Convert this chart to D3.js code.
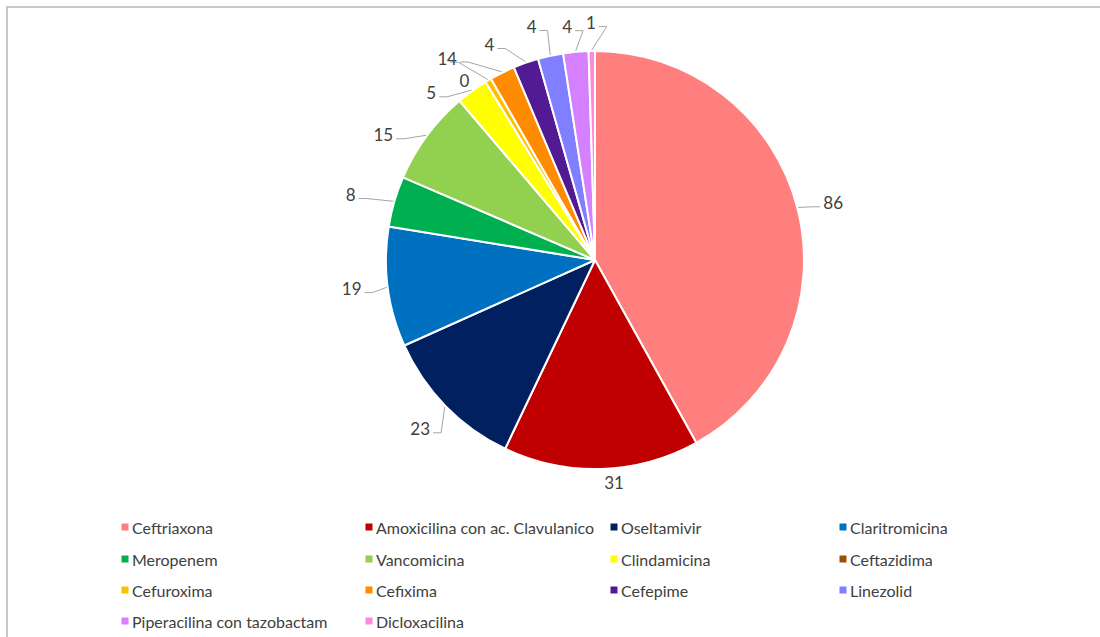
<!DOCTYPE html>
<html><head><meta charset="utf-8">
<script src="https://cdn.jsdelivr.net/npm/d3@7"></script>
<style>
html,body{margin:0;padding:0;background:#fff;}
svg{display:block;}
text{font-family:Lato,"Open Sans",Arial,sans-serif;fill:#404040;}
</style></head>
<body><svg id="c" width="1100" height="637"></svg>
<script>
const categories = ["Ceftriaxona","Amoxicilina con ac. Clavulanico","Oseltamivir","Claritromicina","Meropenem","Vancomicina","Clindamicina","Ceftazidima","Cefuroxima","Cefixima","Cefepime","Linezolid","Piperacilina con tazobactam","Dicloxacilina"];
const values = [86,31,23,19,8,15,5,0,1,4,4,4,4,1];
const colors = ["#FF7F7F","#C00000","#002060","#0070C0","#00B050","#92D050","#FFFF00","#9C4F06","#FFC000","#FF8C00","#521B93","#7F7FFF","#D580FF","#FF88DD"];
// label layout: polar [angle in degrees clockwise from top, distance from centre]
const labelLayout = [[76.5,245],[175.1,223],[226,243],[263.3,245],[285,253],[300.6,246],[315.6,234],[324,222],[322.9,253],[324.7,247.5],[333.9,240],[344.8,242],[353.2,235],[359,237.5]];

const svg = d3.select("#c");
svg.append("rect").attr("x",7).attr("y",7).attr("width",1200).attr("height",800)
  .attr("fill","none").attr("stroke","#c8c8c8").attr("stroke-width",2);

const cx = 595, cy = 260, r = 209;
const g = svg.append("g").attr("transform",`translate(${cx},${cy})`);
const data = categories.map((c,i)=>({name:c,value:values[i],color:colors[i],i}));
const pie = d3.pie().value(d=>d.value).sort(null);
const arcs = pie(data);
const arc = d3.arc().innerRadius(0).outerRadius(r);
g.selectAll("path.slice").data(arcs).join("path").attr("class","slice")
  .attr("d",arc).attr("fill",d=>d.data.color)
  .attr("stroke","#fff").attr("stroke-width",d=>d.data.value>0?2:0).attr("stroke-linejoin","round");

const rad = a => a*Math.PI/180;
arcs.forEach((a,i)=>{
  const [ang,dist] = labelLayout[i];
  const lx = dist*Math.sin(rad(ang)), ly = -dist*Math.cos(rad(ang));
  const mid = (a.startAngle+a.endAngle)/2;
  const sx = (r+1)*Math.sin(mid), sy = -(r+1)*Math.cos(mid);
  const t = g.append("text").attr("x",lx).attr("y",ly).attr("text-anchor","middle")
    .attr("dominant-baseline","central").attr("font-size",17).text(values[i]);
  const d = Math.hypot(lx-sx, ly-sy);
  if (d > 25) {
    const w = t.node().getComputedTextLength();
    const left = lx < sx;
    const ex = left ? lx + w/2 + 3 : lx - w/2 - 3;
    const ey = ly + 4;
    const bx = left ? ex + 8 : ex - 8;
    g.append("polyline").attr("points",`${sx},${sy} ${bx},${ey} ${ex},${ey}`)
      .attr("fill","none").attr("stroke","#a6a6a6").attr("stroke-width",1);
  }
});

// legend
const colX = [125,369,614,843];
const rowY = [527,559,590,621];
const lg = svg.append("g");
data.forEach((d,i)=>{
  const x = colX[i%4], y = rowY[Math.floor(i/4)];
  lg.append("rect").attr("x",x-3.5).attr("y",y-3.5).attr("width",7).attr("height",7).attr("fill",d.color);
  lg.append("text").attr("x",x+7).attr("y",y).attr("dominant-baseline","central").attr("font-size",16).text(d.name);
});
</script></body></html>
